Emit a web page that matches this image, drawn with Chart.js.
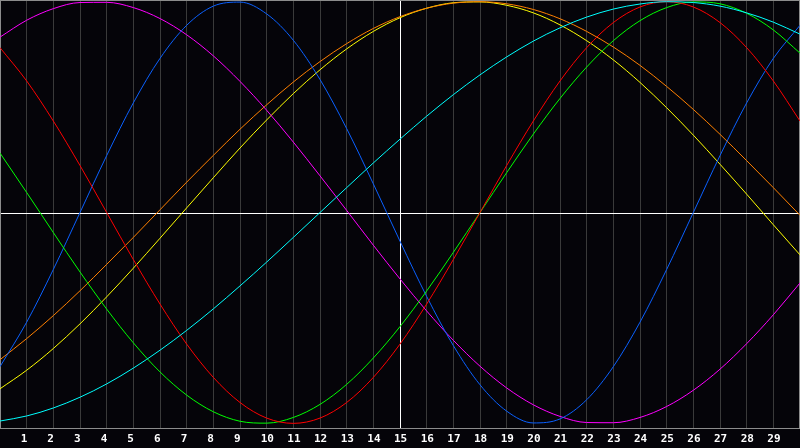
<!DOCTYPE html>
<html>
<head>
<meta charset="utf-8">
<script src="https://cdn.jsdelivr.net/npm/chart.js@4/dist/chart.umd.min.js"></script>
<style>
  html, body { margin: 0; padding: 0; background: #050409; }
  canvas { display: block; }
</style>
</head>
<body>
<canvas id="bio" width="800" height="448"></canvas>
<script>
// Days along the bottom
const days = [0,1,2,3,4,5,6,7,8,9,10,11,12,13,14,15,16,17,18,19,20,21,22,23,24,25,26,27,28,29,30];
const dayLabels = ['1','2','3','4','5','6','7','8','9','10','11','12','13','14','15','16','17','18','19','20','21','22','23','24','25','26','27','28','29'];
const centerDay = 15;

// Curve values per day (percent, -100..100)
const blueVals    = [-73.1,-52.0,-27.0,0,27.0,52.0,73.1,88.8,97.9,99.8,94.2,81.7,63.1,39.8,13.6,-13.6,-39.8,-63.1,-81.7,-94.2,-99.8,-97.9,-88.8,-73.1,-52.0,-27.0,0,27.0,52.0,73.1,88.8];
const redVals     = [78.2,62.4,43.4,22.3,0,-22.3,-43.4,-62.4,-78.2,-90.1,-97.5,-100,-97.5,-90.1,-78.2,-62.4,-43.4,-22.3,0,22.3,43.4,62.4,78.2,90.1,97.5,100,97.5,90.1,78.2,62.4,43.4];
const greenVals   = [28.2,9.5,-9.5,-28.2,-45.8,-61.8,-75.6,-86.6,-94.5,-99.0,-99.9,-97.2,-91.0,-81.5,-69.0,-54.1,-37.2,-18.9,0,18.9,37.2,54.1,69.0,81.5,91.0,97.2,99.9,99.0,94.5,86.6,75.6];
const magentaVals = [83.2,91.2,96.7,99.6,99.7,97.2,92.0,84.3,74.3,62.2,48.5,33.4,17.4,1.0,-15.5,-31.5,-46.7,-60.6,-72.9,-83.2,-91.2,-96.7,-99.6,-99.7,-97.2,-92.0,-84.3,-74.3,-62.2,-48.5,-33.4];
const yellowVals  = [-83.6,-74.8,-64.5,-52.8,-40.0,-26.4,-12.2,2.2,16.5,30.6,43.9,56.4,67.7,77.6,85.9,92.4,96.9,99.5,99.9,98.3,94.7,89.0,81.5,72.4,61.7,49.7,36.7,22.9,8.7,-5.8,-20.1];
const orangeVals  = [-69.8,-59.8,-48.9,-37.1,-24.6,-11.8,1.3,14.4,27.1,39.5,51.1,61.9,71.6,80.1,87.3,92.9,96.9,99.3,100,99.0,96.3,91.9,85.9,78.5,69.8,59.8,48.9,37.1,24.6,11.8,-1.3];
const cyanVals    = [-98.9,-96.5,-92.7,-87.6,-81.3,-73.8,-65.3,-55.9,-45.7,-34.8,-23.5,-11.8,0,11.8,23.5,34.8,45.7,55.9,65.3,73.8,81.3,87.6,92.7,96.5,98.9,100,99.6,97.9,94.7,90.3,84.6];

function pts(vals) {
  return days.map((d, i) => ({x: d, y: vals[i]}));
}

function curve(vals, color) {
  return {
    data: pts(vals),
    borderColor: color,
    borderWidth: 1,
    pointRadius: 0,
    fill: false,
    cubicInterpolationMode: 'monotone'
  };
}

// background, white zero line and grey frame
const framePlugin = {
  id: 'frame',
  beforeDraw(chart) {
    const c = chart.ctx;
    c.save();
    c.fillStyle = '#050409';
    c.fillRect(0, 0, chart.width, chart.height);
    c.restore();
  },
  beforeDatasetsDraw(chart) {
    const c = chart.ctx, a = chart.chartArea;
    const y0 = Math.round(chart.scales.y.getPixelForValue(0)) + 0.5;
    c.save();
    c.strokeStyle = '#ffffff';
    c.lineWidth = 1;
    c.beginPath();
    c.moveTo(a.left, y0);
    c.lineTo(a.right, y0);
    c.stroke();
    c.strokeStyle = '#8c8c8c';
    c.strokeRect(a.left + 0.5, a.top + 0.5, a.right - a.left - 1, a.bottom - a.top);
    c.restore();
  }
};

new Chart(document.getElementById('bio').getContext('2d'), {
  type: 'line',
  data: {
    datasets: [
      curve(cyanVals, '#00ffff'),
      curve(redVals, '#ff0000'),
      curve(greenVals, '#00ff00'),
      curve(blueVals, '#0a60ff'),
      curve(magentaVals, '#ff00ff'),
      curve(orangeVals, '#ff8000'),
      curve(yellowVals, '#ffff00')
    ]
  },
  options: {
    responsive: false,
    animation: false,
    layout: {padding: 0},
    plugins: {legend: {display: false}, tooltip: {enabled: false}},
    scales: {
      x: {
        type: 'linear',
        min: 0,
        max: 30,
        afterBuildTicks: s => { s.ticks = days.map(d => ({value: d})); },
        afterFit: s => { s.height = 20; s.paddingLeft = 0; s.paddingRight = 0; },
        grid: {
          drawTicks: false,
          color: ctx => (ctx.tick && ctx.tick.value === centerDay) ? '#ffffff' : '#3a3a3a',
          lineWidth: 1
        },
        border: {display: true, color: '#8c8c8c'},
        ticks: {
          autoSkip: false,
          maxRotation: 0,
          align: 'start',
          labelOffset: -6,
          padding: 5,
          color: '#ffffff',
          font: {family: 'DejaVu Sans Mono', weight: 'bold', size: 11},
          callback: v => (v >= 1 && v <= 29) ? dayLabels[v - 1] : ''
        }
      },
      y: {
        display: false,
        min: -102.2,
        max: 100.8
      }
    }
  },
  plugins: [framePlugin]
});
</script>
</body>
</html>
